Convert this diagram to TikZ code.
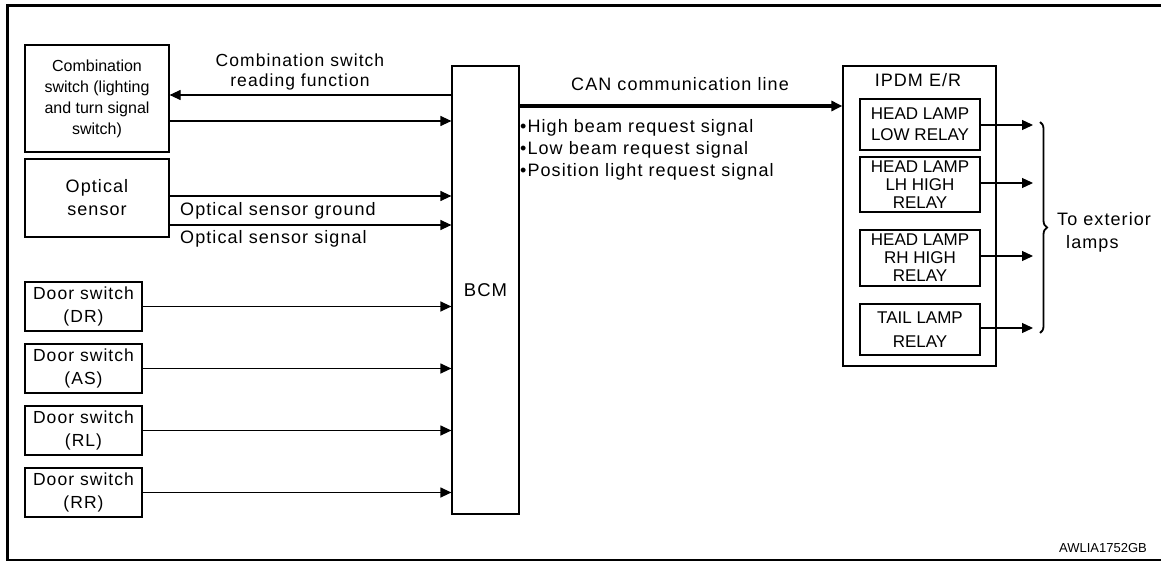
\documentclass[tikz,border=0pt]{standalone}
\usepackage{fontspec}
\setmainfont{Liberation Sans}[LetterSpace=6]
\newfontfamily\plainfont{Liberation Sans}
\usetikzlibrary{arrows.meta,decorations.pathreplacing}
\begin{document}
\begin{tikzpicture}[x=1pt,y=-1pt,
  box/.style={draw, line width=1.2pt, inner sep=0pt, align=center},
  arr/.style={line width=1.2pt, -{Triangle[length=11pt,width=10pt]}},
  lbl/.style={inner sep=0pt, font=\fontsize{18}{21}\selectfont},
  door/.style={box, minimum width=117pt, minimum height=49pt, font=\fontsize{17.5}{23}\selectfont},
  relay/.style={box, minimum width=120pt, font=\plainfont\fontsize{17}{18}\selectfont}
]
\useasboundingbox (0,0) rectangle (1161,561);
% frame
\draw[line width=3pt] (1161,6) -- (7.5,6) -- (7.5,561);
\draw[line width=2pt] (6,560) -- (1161,560);

% left blocks
\node[box, minimum width=144pt, minimum height=107pt, font=\plainfont\fontsize{16}{21}\selectfont] (comb) at (97,98.5) {Combination\\switch (lighting\\and turn signal\\switch)};
\node[box, minimum width=144pt, minimum height=78pt, font=\fontsize{18}{23}\selectfont] (opt) at (97,198) {Optical\\sensor};
\node[door] (d1) at (83.5,306.5) {Door switch\\(DR)};
\node[door] (d2) at (83.5,368.5) {Door switch\\(AS)};
\node[door] (d3) at (83.5,430.5) {Door switch\\(RL)};
\node[door] (d4) at (83.5,492.5) {Door switch\\(RR)};

% BCM
\node[box, minimum width=67pt, minimum height=448pt, font=\fontsize{18.5}{22}\selectfont] (bcm) at (485.5,290) {BCM};

% IPDM
\node[box, minimum width=153pt, minimum height=300pt] (ipdm) at (919.5,216) {};
\node[lbl] (ipdmt) at (918,80) {IPDM E/R};
\node[relay, minimum height=51pt, font=\plainfont\fontsize{17}{21}\selectfont] (r1) at (920,124.5) {HEAD LAMP\\LOW RELAY};
\node[relay, minimum height=55pt] (r2) at (920,184.5) {HEAD LAMP\\LH HIGH\\RELAY};
\node[relay, minimum height=56pt] (r3) at (920,258) {HEAD LAMP\\RH HIGH\\RELAY};
\node[relay, minimum height=51pt, font=\plainfont\fontsize{17}{24}\selectfont] (r4) at (920,329.5) {TAIL LAMP\\RELAY};

% connectors
\draw[arr] (bcm.west |- 0,95) -- (comb.east |- 0,95);
\draw[arr] (comb.east |- 0,121) -- (bcm.west |- 0,121);
\draw[arr] (opt.east |- 0,196) -- (bcm.west |- 0,196);
\draw[arr] (opt.east |- 0,225) -- (bcm.west |- 0,225);
\foreach \d in {d1,d2,d3,d4} \draw[arr] (\d.east) -- (\d.east -| bcm.west);
\draw[line width=3.5pt, -{Triangle[length=11pt,width=10pt]}] (bcm.east |- 0,106) -- (ipdm.west |- 0,106);

\coordinate (o1) at (1033,125);
\coordinate (o2) at (1033,183);
\coordinate (o3) at (1033,256);
\coordinate (o4) at (1033,328);
\draw[arr] (r1.east |- o1) -- (o1);
\draw[arr] (r2.east |- o2) -- (o2);
\draw[arr] (r3.east |- o3) -- (o3);
\draw[arr] (r4.east |- o4) -- (o4);
\draw[line width=1.8pt, decorate, decoration={brace, amplitude=7pt}] (1040,122) -- (1040,333);

% labels
\node[lbl, align=center, font=\fontsize{17.5}{20}\selectfont] (crf) at (300,72) {Combination switch\\reading function};
\node[lbl] (can) at (680,84) {CAN communication line};
\node[lbl, anchor=west, align=left, font=\fontsize{18}{22}\selectfont] (sig) at (520,150) {•High beam request signal\\•Low beam request signal\\•Position light request signal};
\node[lbl, anchor=west] (osg) at (180,211) {Optical sensor ground};
\node[lbl, anchor=west] (oss) at (180,239) {Optical sensor signal};
\node[lbl, anchor=west, align=left, font=\fontsize{18}{23}\selectfont] (ext) at (1057,232) {To exterior\\\hspace*{9pt}lamps};
\node[inner sep=0pt, anchor=east, font=\plainfont\fontsize{13}{14}\selectfont] (code) at (1147,548) {AWLIA1752GB};
\end{tikzpicture}
\end{document}
